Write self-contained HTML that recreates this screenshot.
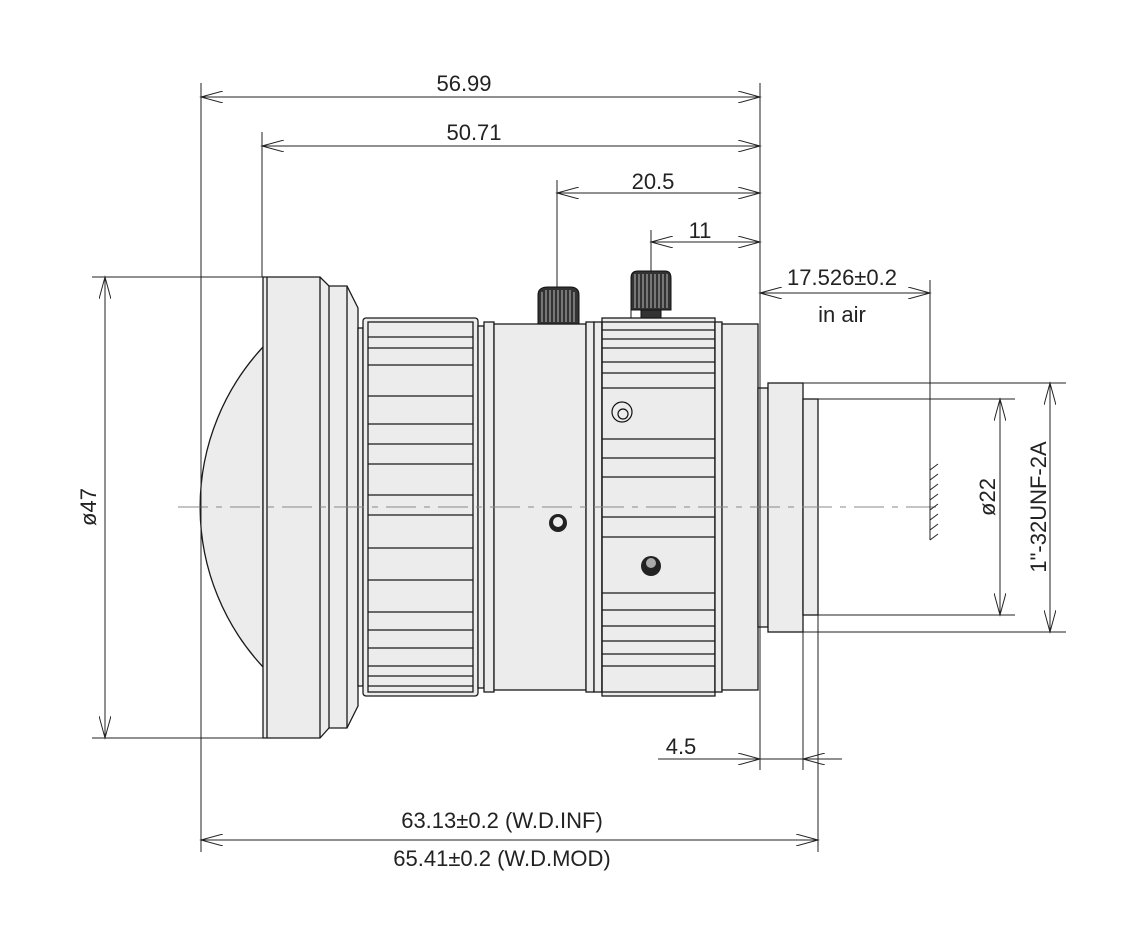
<!DOCTYPE html>
<html><head><meta charset="utf-8"><style>
html,body{margin:0;padding:0;background:#fff;}
svg{display:block;}
text{font-family:"Liberation Sans",sans-serif;font-size:22px;fill:#222;}
</style></head><body>
<svg width="1136" height="949" viewBox="0 0 1136 949" xmlns="http://www.w3.org/2000/svg">
<defs>
<marker id="a" markerWidth="24" markerHeight="12" refX="22" refY="6" orient="auto-start-reverse" markerUnits="userSpaceOnUse">
<path d="M0,0 L22,6 L0,12" fill="none" stroke="#222" stroke-width="1"/>
</marker>
</defs>
<g stroke="#1a1a1a" stroke-width="1.3" fill="#ececec">
<path d="M263,347 A235,235 0 0 0 263,667 Z"/>
<path d="M263,277 L320,277 L329,286 L347,286 L358,308 L358,706 L347,728 L329,728 L320,738 L263,738 Z"/>
<line x1="267" y1="277" x2="267" y2="738"/>
<line x1="320" y1="277" x2="320" y2="738"/>
<line x1="329" y1="286" x2="329" y2="728"/>
<line x1="347" y1="286" x2="347" y2="728"/>
<rect x="358" y="328" width="5" height="358"/>
<rect x="363" y="318" width="115" height="378" rx="3"/>
<rect x="368" y="322" width="105" height="370" fill="none"/>
<g fill="none">
<path d="M368,337 H473 M368,348 H473 M368,365 H473 M368,396 H473 M368,424 H473 M368,444 H473 M368,464 H473 M368,495 H473 M368,515 H473 M368,548 H473 M368,580 H473 M368,612 H473 M368,630 H473 M368,648 H473 M368,666 H473 M368,676 H473 M368,686 H473"/>
</g>
<rect x="478" y="326" width="6" height="362"/>
<rect x="484" y="322" width="10" height="370"/>
<rect x="494" y="324" width="92" height="366"/>
<rect x="586" y="322" width="8" height="370"/>
<rect x="594" y="322" width="8" height="370"/>
<rect x="602" y="318" width="113" height="378"/>
<rect x="602" y="322" width="113" height="370" fill="none"/>
<path fill="none" d="M602,330 H715 M602,339 H715 M602,348 H715 M602,362 H715 M602,373 H715 M602,388 H715 M602,439 H715 M602,458 H715 M602,477 H715 M602,517 H715 M602,537 H715 M602,593 H715 M602,610 H715 M602,626 H715 M602,641 H715 M602,654 H715 M602,666 H715"/>
<rect x="715" y="322" width="7" height="370"/>
<rect x="722" y="324" width="36" height="366"/>
<rect x="758" y="388" width="10" height="239"/>
<rect x="768" y="383" width="35" height="249"/>
<rect x="803" y="399" width="15" height="216"/>
</g>
<g fill="#333" stroke="#111" stroke-width="1">
<path d="M538,324 L538,295 Q538,287 548,287 L570,287 Q579,287 579,295 L579,324 Z"/>
<path d="M631,318 L631,278 Q631,271 638,271 L665,271 Q671,271 671,278 L671,310 L631,310 Z"/>
<rect x="641" y="310" width="20" height="8"/>
</g>
<g stroke="#ddd" stroke-width="0.8">
<path d="M542,292V322M546,290V322M550,290V322M554,290V322M558,290V322M562,290V322M566,290V322M570,290V322M574,292V322"/>
<path d="M635,274V308M639,274V308M643,274V308M647,274V308M651,274V308M655,274V308M659,274V308M663,274V308M667,274V308"/>
</g>
<g fill="none" stroke="#111" stroke-width="1.2">
<circle cx="622" cy="412" r="10"/><circle cx="623" cy="414" r="5"/>
</g>
<circle cx="558" cy="523" r="9" fill="#222"/><circle cx="558" cy="522" r="5" fill="#eee"/>
<circle cx="651" cy="566" r="10" fill="#222"/><circle cx="651" cy="563" r="5" fill="#aaa"/>
<line x1="178" y1="507" x2="940" y2="507" stroke="#888" stroke-width="1" stroke-dasharray="30,8,6,8"/>
<g stroke="#222" stroke-width="1" fill="none">
<line x1="201" y1="83" x2="201" y2="852"/>
<line x1="760" y1="83" x2="760" y2="770"/>
<line x1="262" y1="132" x2="262" y2="277"/>
<line x1="557" y1="180" x2="557" y2="287"/>
<line x1="651" y1="230" x2="651" y2="271"/>
<line x1="930" y1="280" x2="930" y2="540"/>
<line x1="803" y1="632" x2="803" y2="770"/>
<line x1="818" y1="615" x2="818" y2="852"/>
<line x1="92" y1="277" x2="263" y2="277"/>
<line x1="92" y1="738" x2="263" y2="738"/>
<line x1="818" y1="399" x2="1015" y2="399"/>
<line x1="818" y1="615" x2="1015" y2="615"/>
<line x1="803" y1="383" x2="1066" y2="383"/>
<line x1="803" y1="632" x2="1066" y2="632"/>
<path d="M930,470 l8,-6 M930,480 l8,-6 M930,490 l8,-6 M930,500 l8,-6 M930,510 l8,-6 M930,520 l8,-6 M930,530 l8,-6 M930,540 l8,-6"/>
<line x1="201" y1="97" x2="760" y2="97" marker-start="url(#a)" marker-end="url(#a)"/>
<line x1="262" y1="146" x2="760" y2="146" marker-start="url(#a)" marker-end="url(#a)"/>
<line x1="557" y1="193" x2="760" y2="193" marker-start="url(#a)" marker-end="url(#a)"/>
<line x1="651" y1="242" x2="760" y2="242" marker-start="url(#a)" marker-end="url(#a)"/>
<line x1="760" y1="293" x2="930" y2="293" marker-start="url(#a)" marker-end="url(#a)"/>
<line x1="105" y1="277" x2="105" y2="738" marker-start="url(#a)" marker-end="url(#a)"/>
<line x1="1000" y1="399" x2="1000" y2="615" marker-start="url(#a)" marker-end="url(#a)"/>
<line x1="1050" y1="383" x2="1050" y2="632" marker-start="url(#a)" marker-end="url(#a)"/>
<line x1="658" y1="759" x2="760" y2="759" marker-end="url(#a)"/>
<line x1="842" y1="759" x2="803" y2="759" marker-end="url(#a)"/>
<line x1="760" y1="759" x2="803" y2="759"/>
<line x1="201" y1="840" x2="818" y2="840" marker-start="url(#a)" marker-end="url(#a)"/>
</g>
<text x="464" y="91" text-anchor="middle">56.99</text>
<text x="474" y="140" text-anchor="middle">50.71</text>
<text x="653" y="189" text-anchor="middle">20.5</text>
<text x="700" y="238" text-anchor="middle">11</text>
<text x="842" y="285" text-anchor="middle">17.526±0.2</text>
<text x="842" y="322" text-anchor="middle">in air</text>
<text x="681" y="754" text-anchor="middle">4.5</text>
<text x="502" y="828" text-anchor="middle">63.13±0.2 (W.D.INF)</text>
<text x="502" y="866" text-anchor="middle">65.41±0.2 (W.D.MOD)</text>
<text transform="translate(96,507) rotate(-90)" text-anchor="middle">ø47</text>
<text transform="translate(995,497) rotate(-90)" text-anchor="middle">ø22</text>
<text transform="translate(1046,507) rotate(-90)" text-anchor="middle">1"-32UNF-2A</text>
</svg>
</body></html>
